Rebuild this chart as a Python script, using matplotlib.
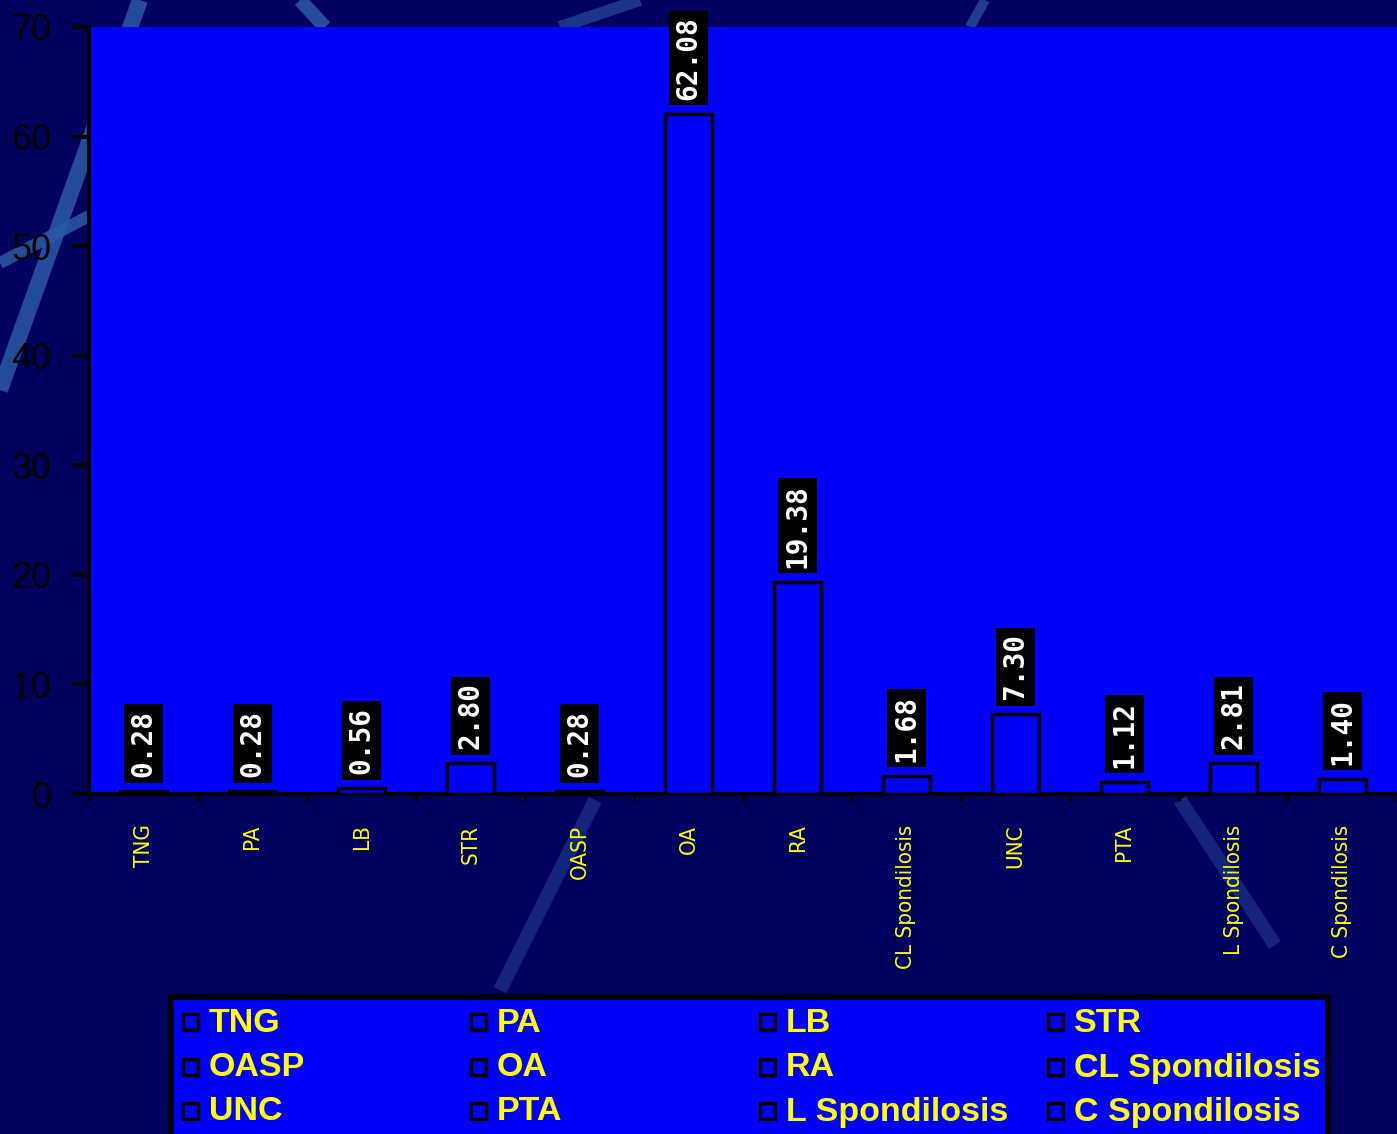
import matplotlib.pyplot as plt
import matplotlib.patches as mpatches
from matplotlib.lines import Line2D
import numpy as np

categories = ["TNG", "PA", "LB", "STR", "OASP", "OA", "RA",
              "CL Spondilosis", "UNC", "PTA", "L Spondilosis", "C Spondilosis"]
values = [0.28, 0.28, 0.56, 2.80, 0.28, 62.08, 19.38, 1.68, 7.30, 1.12, 2.81, 1.40]
value_labels = ["0.28", "0.28", "0.56", "2.80", "0.28", "62.08", "19.38",
                "1.68", "7.30", "1.12", "2.81", "1.40"]
yticks = [0, 10, 20, 30, 40, 50, 60, 70]

W, H = 1397, 1134
navy = "#00005e"
plot_blue = "#0000ff"
yellow = "#ffff00"

fig = plt.figure(figsize=(W / 100, H / 100), dpi=100)
fig.patch.set_facecolor(navy)

# decorative background streaks (pixel coords, y from top)
def streak(x0, y0, x1, y1, w, c="#2c5aa6", a=0.85):
    fig.add_artist(Line2D([x0 / W, x1 / W], [1 - y0 / H, 1 - y1 / H],
                          transform=fig.transFigure, lw=w * 0.72,
                          color=c, alpha=a, zorder=-1, solid_capstyle="butt"))

streak(140, 0, 0, 390, 16)
streak(0, 263, 89, 216, 12)
streak(300, 0, 325, 27, 14)
streak(560, 27, 640, 0, 12, a=0.6)
streak(985, 0, 970, 27, 10, a=0.7)
streak(595, 800, 500, 990, 14, c="#1f3f90", a=0.6)
streak(1180, 800, 1275, 945, 14, c="#1f3f90", a=0.6)

ax = fig.add_axes([89 / W, 1 - 794 / H, 1 - 89 / W, (794 - 27) / H])
ax.set_facecolor(plot_blue)

x = np.arange(len(categories))
ax.bar(x, values, width=0.43, color=plot_blue, edgecolor="black", linewidth=2.5, zorder=3)

for xi, v, lab in zip(x, values, value_labels):
    ax.annotate(lab, (xi, v), xytext=(0, 10), textcoords="offset points",
                rotation=90, ha="center", va="bottom", color="white",
                fontsize=20, fontweight="bold", family="DejaVu Sans Mono",
                bbox=dict(boxstyle="square,pad=0.2", facecolor="black", edgecolor="none"),
                annotation_clip=False, zorder=5)

ax.set_xlim(-0.5, len(categories) - 0.5)
ax.set_ylim(0, 70)
ax.set_yticks(yticks)
ax.set_yticklabels([str(t) for t in yticks], fontsize=26, family="Liberation Sans", color="black")
ax.tick_params(axis="y", direction="out", length=12, width=3, pad=15, colors="black")

ax.set_xticks(x)
ax.set_xticklabels(categories, rotation=90, fontsize=16, color=yellow, va="top",
                   fontstretch="condensed")
ax.tick_params(axis="x", which="major", length=0, pad=22)
ax.set_xticks(np.arange(-0.5, len(categories), 1), minor=True)
ax.tick_params(axis="x", which="minor", direction="out", length=5, width=2, color="black")

for s in ["top", "right"]:
    ax.spines[s].set_visible(False)
for s in ["left", "bottom"]:
    ax.spines[s].set_linewidth(3)
    ax.spines[s].set_color("black")

# legend box at the bottom, 4 columns filled row by row (pixel coords)
lax = fig.add_axes([171 / W, 0, (1328 - 171) / W, (1134 - 997) / H])
lax.set_xlim(171, 1328)
lax.set_ylim(1134, 997)
lax.set_facecolor(plot_blue)
lax.set_xticks([])
lax.set_yticks([])
for s in ["top", "left", "right"]:
    lax.spines[s].set_linewidth(4)
    lax.spines[s].set_color("black")
lax.spines["bottom"].set_visible(False)

col_x = [183, 471, 760, 1048]
row_y = [1022, 1067, 1111]
for i, name in enumerate(categories):
    cx = col_x[i % 4]
    cy = row_y[i // 4]
    lax.add_patch(mpatches.Rectangle((cx, cy - 8), 15, 16, facecolor=plot_blue,
                                     edgecolor="black", linewidth=2.5))
    lax.text(cx + 26, cy + 1, name, color=yellow, fontsize=24.5, fontweight="bold",
             family="Liberation Sans", va="center", ha="left")

fig.savefig("out.png", dpi=100, facecolor=navy)
